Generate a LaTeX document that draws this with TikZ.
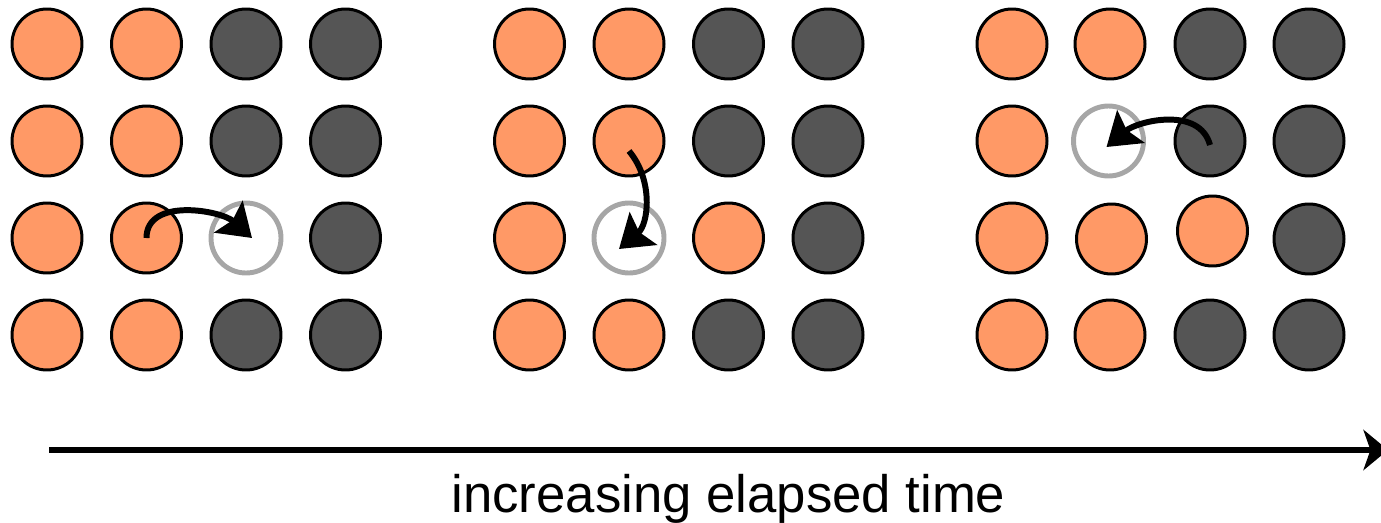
\documentclass[tikz,border=0pt]{standalone}
\usepackage{fontspec}
\setmainfont{Liberation Sans}
\usepackage{tikz}
\usetikzlibrary{shapes}
\usetikzlibrary{arrows.meta}
\definecolor{orangec}{RGB}{255,153,102}
\definecolor{darkc}{RGB}{85,85,85}
\definecolor{grayc}{RGB}{166,166,166}
\tikzset{
    mynodeo/.style = {circle, line width=1.7pt, draw=black, inner sep=0pt, minimum size=1.4cm, fill=orangec},
    mynoded/.style = {circle, line width=1.7pt, draw=black, inner sep=0pt, minimum size=1.4cm, fill=darkc},
    mynodee/.style = {circle, line width=2.8pt, draw=grayc, inner sep=0pt, minimum size=1.4cm, fill=white},
    edgen/.style = {-{Stealth[length=18pt,width=24pt,inset=3pt]}, line width=3.4pt, black}, % move
    edget/.style = {-{Stealth[length=14pt,width=23pt,inset=4pt]}, line width=3.4pt, black}, % time
    mylabel/.style = {anchor=base, inner sep=0pt, font=\fontsize{30}{36}\selectfont}
}
\begin{document}
\begin{tikzpicture}[scale=1.00,transform shape]
\useasboundingbox (0,0) rectangle (27.62,10.44);
% first grid
\node[mynodeo] at ( 0.94, 9.56) (a11) {};
\node[mynodeo] at ( 2.93, 9.56) (a12) {};
\node[mynoded] at ( 4.92, 9.56) (a13) {};
\node[mynoded] at ( 6.91, 9.56) (a14) {};
\node[mynodeo] at ( 0.94, 7.62) (a21) {};
\node[mynodeo] at ( 2.93, 7.62) (a22) {};
\node[mynoded] at ( 4.92, 7.62) (a23) {};
\node[mynoded] at ( 6.91, 7.62) (a24) {};
\node[mynodeo] at ( 0.94, 5.68) (a31) {};
\node[mynodeo] at ( 2.93, 5.68) (a32) {};
\node[mynodee] at ( 4.92, 5.68) (a33) {};
\node[mynoded] at ( 6.91, 5.68) (a34) {};
\node[mynodeo] at ( 0.94, 3.74) (a41) {};
\node[mynodeo] at ( 2.93, 3.74) (a42) {};
\node[mynoded] at ( 4.92, 3.74) (a43) {};
\node[mynoded] at ( 6.91, 3.74) (a44) {};
% second grid
\node[mynodeo] at (10.59, 9.56) (b11) {};
\node[mynodeo] at (12.58, 9.56) (b12) {};
\node[mynoded] at (14.57, 9.56) (b13) {};
\node[mynoded] at (16.56, 9.56) (b14) {};
\node[mynodeo] at (10.59, 7.62) (b21) {};
\node[mynodeo] at (12.58, 7.62) (b22) {};
\node[mynoded] at (14.57, 7.62) (b23) {};
\node[mynoded] at (16.56, 7.62) (b24) {};
\node[mynodeo] at (10.59, 5.68) (b31) {};
\node[mynodee] at (12.58, 5.68) (b32) {};
\node[mynodeo] at (14.57, 5.68) (b33) {};
\node[mynoded] at (16.56, 5.68) (b34) {};
\node[mynodeo] at (10.59, 3.74) (b41) {};
\node[mynodeo] at (12.58, 3.74) (b42) {};
\node[mynoded] at (14.57, 3.74) (b43) {};
\node[mynoded] at (16.56, 3.74) (b44) {};
% third grid
\node[mynodeo] at (20.24, 9.56) (c11) {};
\node[mynodeo] at (22.20, 9.56) (c12) {};
\node[mynoded] at (24.20, 9.56) (c13) {};
\node[mynoded] at (26.18, 9.56) (c14) {};
\node[mynodeo] at (20.24, 7.62) (c21) {};
\node[mynodee] at (22.17, 7.62) (c22) {};
\node[mynoded] at (24.20, 7.62) (c23) {};
\node[mynoded] at (26.18, 7.62) (c24) {};
\node[mynodeo] at (20.24, 5.68) (c31) {};
\node[mynodeo] at (22.23, 5.66) (c32) {};
\node[mynodeo] at (24.25, 5.82) (c33) {};
\node[mynoded] at (26.18, 5.66) (c34) {};
\node[mynodeo] at (20.24, 3.74) (c41) {};
\node[mynodeo] at (22.20, 3.74) (c42) {};
\node[mynoded] at (24.20, 3.74) (c43) {};
\node[mynoded] at (26.18, 3.74) (c44) {};
% moves
\draw[edgen] (a32.center) to[out=90,in=138] ([xshift=1.2mm]a33.center);
\draw[edgen] ([yshift=-2mm]b22.center) to[out=-50,in=40] ([xshift=-2mm,yshift=-2.2mm]b32.center);
\draw[edgen] ([yshift=-0.8mm]c23.center) to[out=105,in=40] ([xshift=-0.4mm,yshift=-1.2mm]c22.center);
% time axis
\coordinate (ts) at ( 0.98, 1.44);
\coordinate (te) at (27.76, 1.44);
\draw[edget] (ts) -- (te);
\node[mylabel] at (14.57, 0.20) (lbl) {increasing elapsed time};
\end{tikzpicture}
\end{document}
